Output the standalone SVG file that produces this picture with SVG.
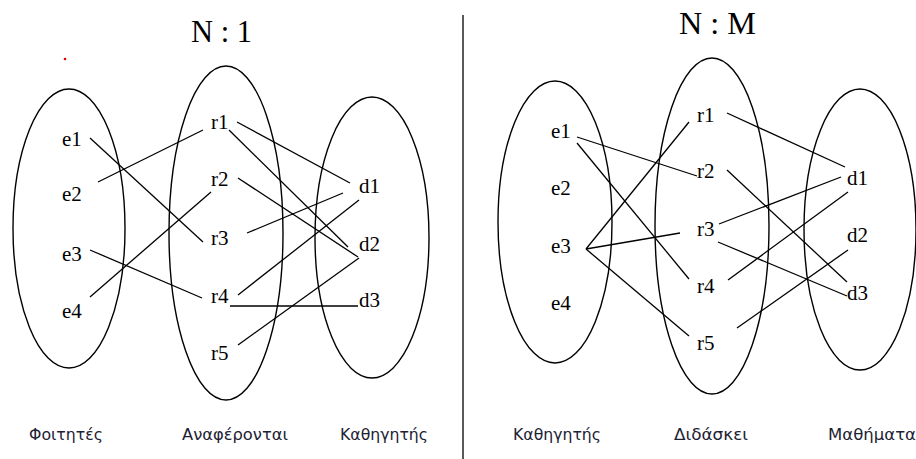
<svg xmlns="http://www.w3.org/2000/svg" width="916" height="459" viewBox="0 0 916 459">
<style>
.ell{fill:none;stroke:#000;stroke-width:1.4}
.ln{stroke:#000;stroke-width:1.3;fill:none}
.lbl{font-family:"Liberation Serif","Times New Roman",serif;font-size:21px;fill:#000}
.ttl{font-family:"Liberation Serif","Times New Roman",serif;font-size:32px;fill:#000}
.cap{font-family:"DejaVu Sans","Noto Sans",sans-serif;font-size:16px;fill:#1c2233}
</style>
<rect width="916" height="459" fill="#fff"/>
<g id="left-panel">
<text class="ttl" x="191" y="42" textLength="61" lengthAdjust="spacingAndGlyphs">N : 1</text>
<circle cx="65" cy="59" r="1.3" fill="#e00000"/>
<g id="set-foitites"><ellipse class="ell" cx="69" cy="228.5" rx="56" ry="139.5"/>
<text class="cap" x="29" y="440" textLength="74" lengthAdjust="spacingAndGlyphs">Φοιτητές</text></g>
<g id="set-anaferontai"><ellipse class="ell" cx="226" cy="233" rx="57" ry="167"/>
<text class="cap" x="182" y="440" textLength="106" lengthAdjust="spacingAndGlyphs">Αναφέρονται</text></g>
<g id="set-kathigitis"><ellipse class="ell" cx="372" cy="237.5" rx="57" ry="140.5"/>
<text class="cap" x="340" y="440" textLength="88" lengthAdjust="spacingAndGlyphs">Καθηγητής</text></g>
<g id="L-e1"><text class="lbl" x="62" y="146">e1</text></g>
<g id="L-e2"><text class="lbl" x="62" y="201">e2</text></g>
<g id="L-e3"><text class="lbl" x="62" y="261">e3</text></g>
<g id="L-e4"><text class="lbl" x="62" y="318">e4</text></g>
<g id="L-r1"><text class="lbl" x="211" y="129">r1</text></g>
<g id="L-r2"><text class="lbl" x="211" y="186">r2</text></g>
<g id="L-r3"><text class="lbl" x="211" y="245">r3</text></g>
<g id="L-r4"><text class="lbl" x="211" y="303">r4</text></g>
<g id="L-r5"><text class="lbl" x="211" y="360">r5</text></g>
<g id="L-d1"><text class="lbl" x="359" y="193">d1</text></g>
<g id="L-d2"><text class="lbl" x="359" y="251">d2</text></g>
<g id="L-d3"><text class="lbl" x="359" y="307">d3</text></g>
</g>
<line class="ln" x1="463" y1="15" x2="463" y2="459"/>
<g id="right-panel">
<text class="ttl" x="679" y="34" textLength="77" lengthAdjust="spacingAndGlyphs">N : M</text>
<g id="set-kathigitis2"><ellipse class="ell" cx="555" cy="222" rx="57" ry="141"/>
<text class="cap" x="513" y="440" textLength="88" lengthAdjust="spacingAndGlyphs">Καθηγητής</text></g>
<g id="set-didaskei"><ellipse class="ell" cx="712" cy="226" rx="57" ry="168"/>
<text class="cap" x="674" y="440" textLength="74" lengthAdjust="spacingAndGlyphs">Διδάσκει</text></g>
<g id="set-mathimata"><ellipse class="ell" cx="860" cy="229.5" rx="56" ry="140.5"/>
<text class="cap" x="828" y="440" textLength="88" lengthAdjust="spacingAndGlyphs">Μαθήματα</text></g>
<g id="R-e1"><text class="lbl" x="551" y="138">e1</text></g>
<g id="R-e2"><text class="lbl" x="551" y="195">e2</text></g>
<g id="R-e3"><text class="lbl" x="551" y="253">e3</text></g>
<g id="R-e4"><text class="lbl" x="551" y="310">e4</text></g>
<g id="R-r1"><text class="lbl" x="697" y="122">r1</text></g>
<g id="R-r2"><text class="lbl" x="697" y="178">r2</text></g>
<g id="R-r3"><text class="lbl" x="697" y="236">r3</text></g>
<g id="R-r4"><text class="lbl" x="697" y="293">r4</text></g>
<g id="R-r5"><text class="lbl" x="697" y="350">r5</text></g>
<g id="R-d1"><text class="lbl" x="847" y="185">d1</text></g>
<g id="R-d2"><text class="lbl" x="847" y="242">d2</text></g>
<g id="R-d3"><text class="lbl" x="847" y="300">d3</text></g>
</g>
<g id="connectors">
<line class="ln" x1="90" y1="138" x2="203" y2="242"/>
<line class="ln" x1="98" y1="182" x2="203" y2="130"/>
<line class="ln" x1="90" y1="250" x2="202" y2="298"/>
<line class="ln" x1="90" y1="297" x2="211" y2="192"/>
<line class="ln" x1="237" y1="122" x2="350" y2="183"/>
<line class="ln" x1="229" y1="130" x2="348" y2="247"/>
<line class="ln" x1="238" y1="178" x2="358" y2="257"/>
<line class="ln" x1="247" y1="233" x2="343" y2="193"/>
<line class="ln" x1="238" y1="295" x2="359" y2="200"/>
<line class="ln" x1="230" y1="306" x2="358" y2="306"/>
<line class="ln" x1="238" y1="345" x2="359" y2="258"/>
<line class="ln" x1="577" y1="137" x2="697" y2="176"/>
<line class="ln" x1="577" y1="143" x2="689" y2="279"/>
<line class="ln" x1="586" y1="249" x2="689" y2="122"/>
<line class="ln" x1="586" y1="249" x2="680" y2="233"/>
<line class="ln" x1="586" y1="249" x2="689" y2="336"/>
<line class="ln" x1="727" y1="113" x2="845" y2="167"/>
<line class="ln" x1="727" y1="170" x2="847" y2="282"/>
<line class="ln" x1="719" y1="224" x2="841" y2="177"/>
<line class="ln" x1="718" y1="242" x2="847" y2="296"/>
<line class="ln" x1="728" y1="280" x2="848" y2="192"/>
<line class="ln" x1="737" y1="328" x2="848" y2="250"/>
</g>
</svg>
